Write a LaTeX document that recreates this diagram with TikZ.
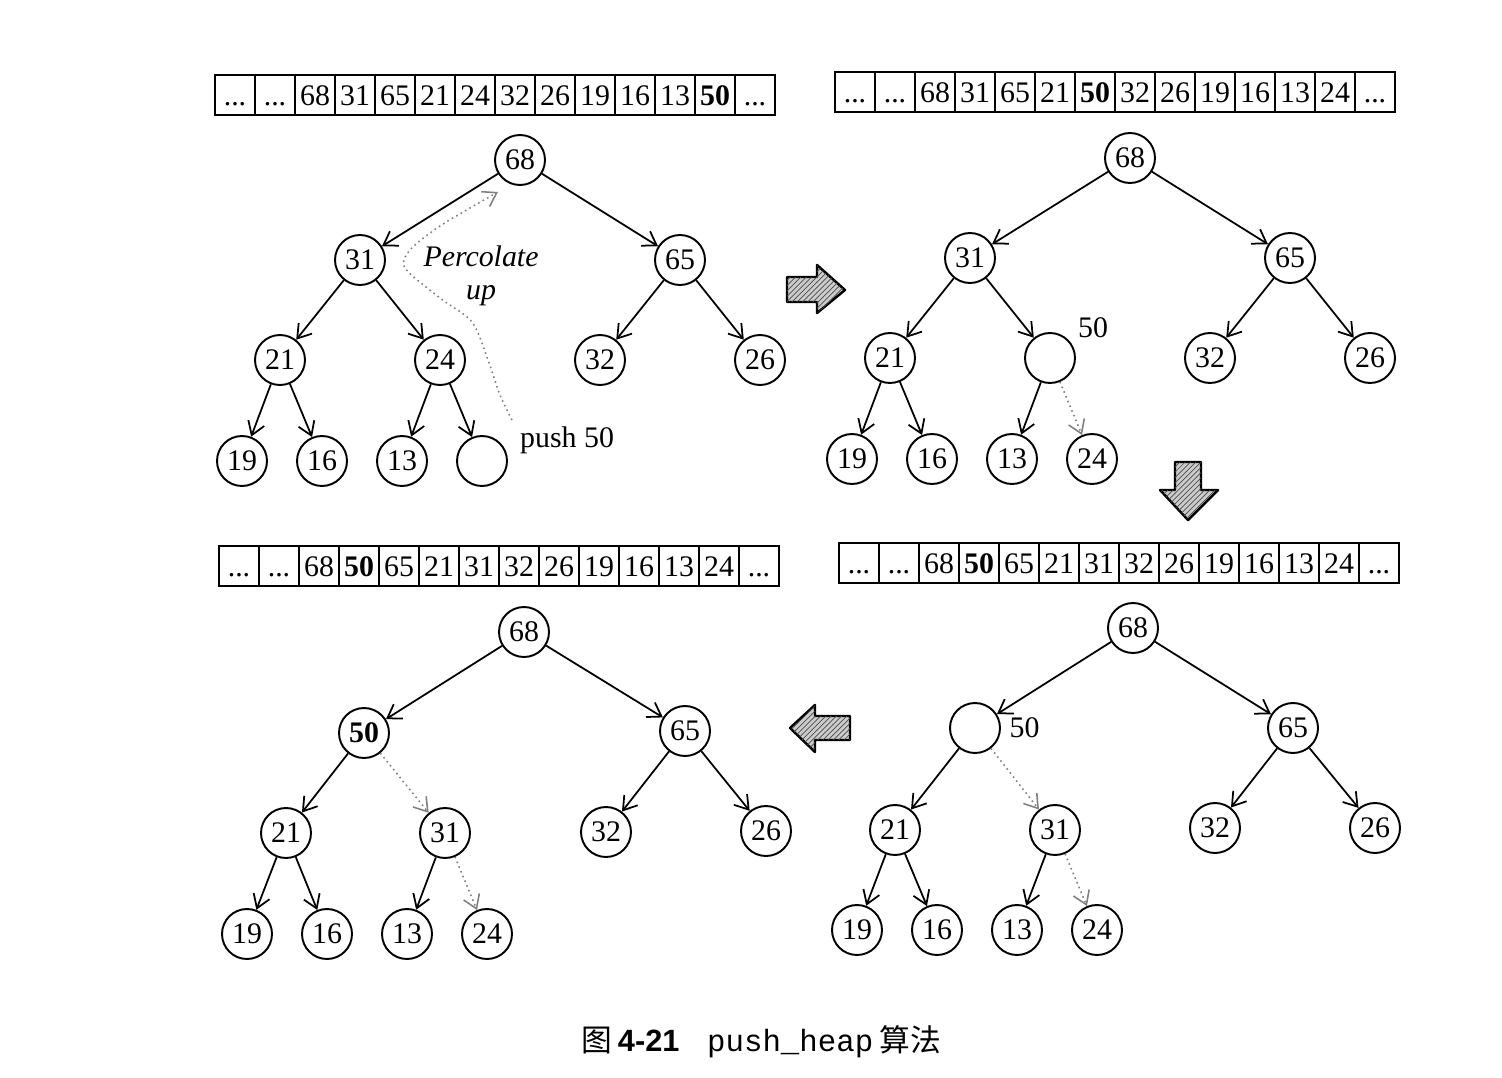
\documentclass[tikz,border=0pt]{standalone}
\usepackage{fontspec}
\setmainfont{Liberation Serif}
\newfontfamily\cjk{Noto Sans CJK SC}
\newfontfamily\capsans{Liberation Sans}
\newfontfamily\capmono{Liberation Mono}
\usetikzlibrary{arrows.meta,positioning,patterns}
\newcommand\celldots{...}

\tikzset{
  key/.style={circle, draw, line width=1.1pt, minimum size=1cm, inner sep=0pt},
  cell/.style={draw, line width=1.1pt, minimum width=0.8cm, minimum height=0.8cm, inner sep=0pt,
    text height=11.5pt, text depth=0pt},
  link/.style={line width=1pt, -{Straight Barb[length=2.6mm,width=3.4mm]}},
  moved/.style={gray, dotted, line width=0.9pt, -{Straight Barb[length=2.6mm,width=3.4mm]}},
  fatarrow/.style={draw, line width=1.4pt, line join=round, fill=gray!40,
    postaction={pattern=north east lines, pattern color=black!70}},
}

\begin{document}
\begin{tikzpicture}[x=0.02cm, y=-0.02cm, font=\fontsize{17}{19}\selectfont]
  \useasboundingbox (0,0) rectangle (1502,1078);

  % arrays
  \foreach \v [count=\i] in {\celldots,\celldots,68,31,65,21,24,32,26,19,16,13,\textbf{50},\celldots}
    \node[cell] (pa-\i) at ({235+40*(\i-1)},95) {\v};
  \foreach \v [count=\i] in {\celldots,\celldots,68,31,65,21,\textbf{50},32,26,19,16,13,24,\celldots}
    \node[cell] (pb-\i) at ({855+40*(\i-1)},92) {\v};
  \foreach \v [count=\i] in {\celldots,\celldots,68,\textbf{50},65,21,31,32,26,19,16,13,24,\celldots}
    \node[cell] (pc-\i) at ({239+40*(\i-1)},566) {\v};
  \foreach \v [count=\i] in {\celldots,\celldots,68,\textbf{50},65,21,31,32,26,19,16,13,24,\celldots}
    \node[cell] (pd-\i) at ({859+40*(\i-1)},563) {\v};

  % push 50 into the hole
  \begin{scope}[shift={(520,160)}]
    \node[key] (a68) at (0,0) {68};
    \node[key] (a31) at (-160,100) {31};
    \node[key] (a65) at (160,100) {65};
    \node[key] (a21) at (-240,200) {21};
    \node[key] (a24) at (-80,200) {24};
    \node[key] (a32) at (80,200) {32};
    \node[key] (a26) at (240,200) {26};
    \node[key] (a19) at (-278,301) {19};
    \node[key] (a16) at (-198,301) {16};
    \node[key] (a13) at (-118,301) {13};
    \node[key] (ahole) at (-38,301) {};
    \node[anchor=west] (apush) at (-6,280) {push 50};
  \end{scope}
  \draw[link] (a68) -- (a31);
  \draw[link] (a68) -- (a65);
  \draw[link] (a31) -- (a21);
  \draw[link] (a31) -- (a24);
  \draw[link] (a65) -- (a32);
  \draw[link] (a65) -- (a26);
  \draw[link] (a21) -- (a19);
  \draw[link] (a21) -- (a16);
  \draw[link] (a24) -- (a13);
  \draw[link] (a24) -- (ahole);
  \node[font=\fontsize{17}{19}\selectfont\itshape, align=center] (aperc) at (481,276) {Percolate\\up};
  \coordinate (pstart) at (512,420);
  \coordinate (pend) at (498,192);
  \draw[moved] plot[smooth] coordinates {(pstart) (500,395) (488,360) (472,322) (440,298)
    (405,268) (410,250) (437,228) (470,208) (pend)};

  % 50 > 24
  \begin{scope}[shift={(1130,158)}]
    \node[key] (b68) at (0,0) {68};
    \node[key] (b31) at (-160,100) {31};
    \node[key] (b65) at (160,100) {65};
    \node[key] (b21) at (-240,200) {21};
    \node[key] (bhole) at (-80,200) {};
    \node[key] (b32) at (80,200) {32};
    \node[key] (b26) at (240,200) {26};
    \node[key] (b19) at (-278,301) {19};
    \node[key] (b16) at (-198,301) {16};
    \node[key] (b13) at (-118,301) {13};
    \node[key] (b24) at (-38,301) {24};
    \node (bval) at (-37,170) {50};
  \end{scope}
  \draw[link] (b68) -- (b31);
  \draw[link] (b68) -- (b65);
  \draw[link] (b31) -- (b21);
  \draw[link] (b31) -- (bhole);
  \draw[link] (b65) -- (b32);
  \draw[link] (b65) -- (b26);
  \draw[link] (b21) -- (b19);
  \draw[link] (b21) -- (b16);
  \draw[link] (bhole) -- (b13);
  \draw[moved] (bhole) -- (b24);

  % 50 > 31
  \begin{scope}[shift={(1133,628)}]
    \node[key] (d68) at (0,0) {68};
    \node[key] (dhole) at (-158,100) {};
    \node[key] (d65) at (160,100) {65};
    \node[key] (d21) at (-238,202) {21};
    \node[key] (d31) at (-78,202) {31};
    \node[key] (d32) at (82,200) {32};
    \node[key] (d26) at (242,200) {26};
    \node[key] (d19) at (-276,302) {19};
    \node[key] (d16) at (-196,302) {16};
    \node[key] (d13) at (-116,302) {13};
    \node[key] (d24) at (-36,302) {24};
    \node[right=0.05cm of dhole] (dval) {50};
  \end{scope}
  \draw[link] (d68) -- (dhole);
  \draw[link] (d68) -- (d65);
  \draw[link] (dhole) -- (d21);
  \draw[moved] (dhole) -- (d31);
  \draw[link] (d65) -- (d32);
  \draw[link] (d65) -- (d26);
  \draw[link] (d21) -- (d19);
  \draw[link] (d21) -- (d16);
  \draw[link] (d31) -- (d13);
  \draw[moved] (d31) -- (d24);

  % 50 < 68, done
  \begin{scope}[shift={(524,632)}]
    \node[key] (c68) at (0,0) {68};
    \node[key] (c50) at (-160,101) {\textbf{50}};
    \node[key] (c65) at (161,99) {65};
    \node[key] (c21) at (-238,201) {21};
    \node[key] (c31) at (-79,201) {31};
    \node[key] (c32) at (82,200) {32};
    \node[key] (c26) at (242,199) {26};
    \node[key] (c19) at (-277,302) {19};
    \node[key] (c16) at (-197,302) {16};
    \node[key] (c13) at (-117,302) {13};
    \node[key] (c24) at (-37,302) {24};
  \end{scope}
  \draw[link] (c68) -- (c50);
  \draw[link] (c68) -- (c65);
  \draw[link] (c50) -- (c21);
  \draw[moved] (c50) -- (c31);
  \draw[link] (c65) -- (c32);
  \draw[link] (c65) -- (c26);
  \draw[link] (c21) -- (c19);
  \draw[link] (c21) -- (c16);
  \draw[link] (c31) -- (c13);
  \draw[moved] (c31) -- (c24);

  % step arrows
  \draw[fatarrow] (787,277) -- (817,277) -- (817,265) -- (845,290) -- (817,313)
    -- (817,302) -- (787,302) -- cycle;
  \draw[fatarrow] (1175,462) -- (1201,462) -- (1201,490) -- (1218,490) -- (1188,520)
    -- (1160,490) -- (1175,490) -- cycle;
  \draw[fatarrow] (850,716) -- (815,716) -- (815,705) -- (790,728) -- (815,752)
    -- (815,740) -- (850,740) -- cycle;

  \node[font=\fontsize{17.5}{20}\selectfont] (caption) at (761,1042)
    {{\cjk 图}\hspace{0.2em}{\capsans\bfseries 4-21}\hspace{0.9em}{\capmono push\_heap}\hspace{0.2em}{\cjk 算法}};
\end{tikzpicture}
\end{document}
